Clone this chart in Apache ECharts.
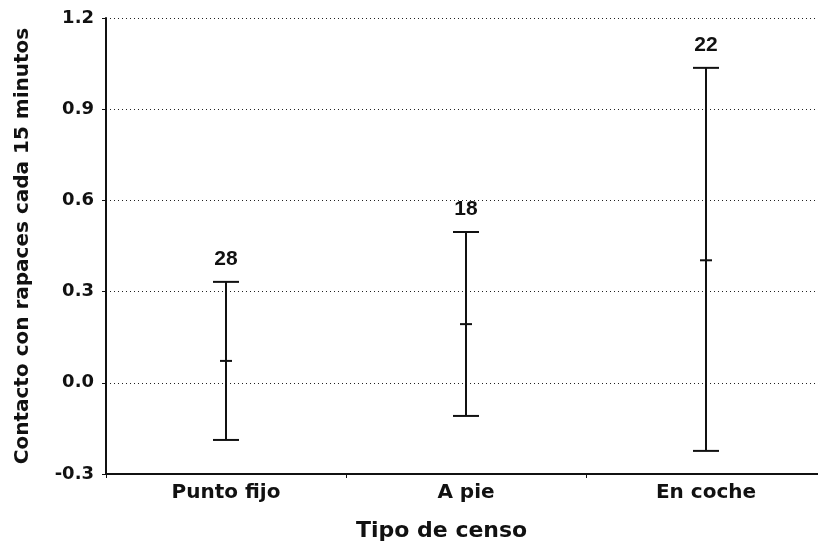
<!DOCTYPE html>
<html>
<head>
<meta charset="utf-8">
<script src="https://cdn.jsdelivr.net/npm/echarts@6/dist/echarts.min.js"></script>
<style>html,body{margin:0;padding:0;background:#fff}#c{width:818px;height:550px}</style>
</head>
<body>
<div id="c"></div>
<script>
const categories = ['Punto fijo', 'A pie', 'En coche'];
const means = [0.072, 0.193, 0.403];
const lower = [-0.188, -0.109, -0.224];
const upper = [0.332, 0.496, 1.036];
const counts = ['28', '18', '22'];
const yTicks = { min: -0.3, max: 1.2, interval: 0.3 };

const FONT = '"DejaVu Sans", Verdana, sans-serif';
const FONT2 = '"Liberation Sans", Arial, sans-serif';
const chart = echarts.init(document.getElementById('c'));
const data = categories.map((c, i) => [i, lower[i], upper[i], means[i], counts[i]]);

chart.setOption({
  backgroundColor: '#fff',
  animation: false,
  grid: { left: 106, width: 720, top: 18, bottom: 76, containLabel: false, outerBoundsMode: 'none' },
  xAxis: {
    type: 'category',
    data: categories,
    axisLine: { show: true, onZero: false, lineStyle: { color: '#111', width: 2 } },
    axisTick: { show: true, length: 4, lineStyle: { color: '#111', width: 1 } },
    axisLabel: { color: '#111', fontFamily: FONT, fontWeight: 'bold', fontSize: 20, margin: 9 },
    splitLine: { show: false }
  },
  yAxis: {
    type: 'value',
    min: yTicks.min, max: yTicks.max, interval: yTicks.interval,
    name: 'Contacto con rapaces cada 15 minutos',
    nameLocation: 'middle',
    nameGap: 73,
    nameTextStyle: { color: '#111', fontFamily: FONT, fontWeight: 'bold', fontSize: 20 },
    axisLine: { show: true, lineStyle: { color: '#111', width: 2 } },
    axisTick: { show: true, length: 4, lineStyle: { color: '#111', width: 1 } },
    axisLabel: { color: '#111', fontFamily: FONT, fontWeight: 'bold', fontSize: 18, margin: 12,
      formatter: v => v.toFixed(1) },
    splitLine: { show: true, lineStyle: { color: '#222', type: [1, 3], width: 1 } }
  },
  graphic: [{
    type: 'text', left: 356, top: 520,
    style: { text: 'Tipo de censo', fill: '#111', font: 'bold 22px ' + FONT }
  }],
  series: [{
    type: 'custom',
    data: data,
    renderItem: function (params, api) {
      const x = api.value(0);
      const lo = api.coord([x, api.value(1)]);
      const hi = api.coord([x, api.value(2)]);
      const mid = api.coord([x, api.value(3)]);
      const cap = 13, mcap = 6;
      const st = { stroke: '#111', lineWidth: 2 };
      return {
        type: 'group',
        children: [
          { type: 'line', shape: { x1: hi[0], y1: hi[1], x2: lo[0], y2: lo[1] }, style: st },
          { type: 'line', shape: { x1: hi[0] - cap, y1: hi[1], x2: hi[0] + cap, y2: hi[1] }, style: st },
          { type: 'line', shape: { x1: lo[0] - cap, y1: lo[1], x2: lo[0] + cap, y2: lo[1] }, style: st },
          { type: 'line', shape: { x1: mid[0] - mcap, y1: mid[1], x2: mid[0] + mcap, y2: mid[1] }, style: st },
          { type: 'text', x: hi[0], y: hi[1] - 12,
            style: { text: api.value(4), fill: '#111', font: 'bold 21px ' + FONT2, align: 'center', verticalAlign: 'bottom' } }
        ]
      };
    }
  }]
});
</script>
</body>
</html>
